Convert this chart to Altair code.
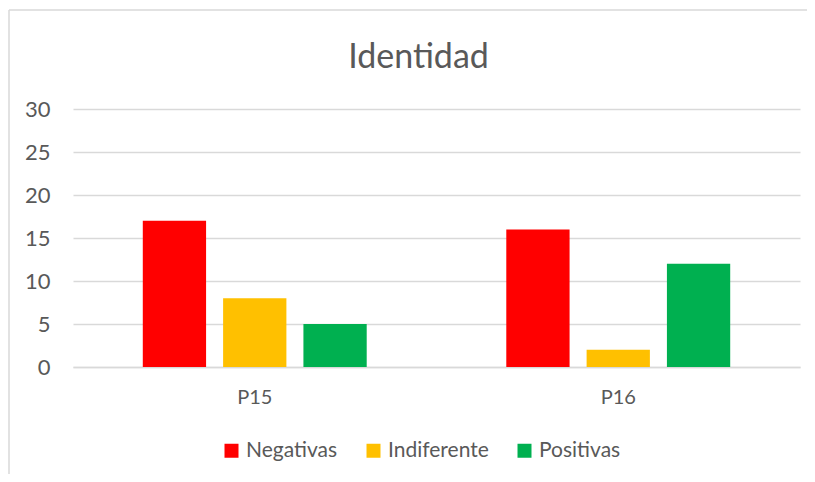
import altair as alt
import pandas as pd

categories = ["P15", "P16"]
series = ["Negativas", "Indiferente", "Positivas"]
negativas = [17, 16]
indiferente = [8, 2]
positivas = [5, 12]
colors = ["#FF0000", "#FFC000", "#00B050"]
y_ticks = [0, 5, 10, 15, 20, 25, 30]

rows = []
for i, c in enumerate(categories):
    for s, vals in zip(series, [negativas, indiferente, positivas]):
        rows.append({"cat": c, "serie": s, "valor": vals[i]})
df = pd.DataFrame(rows)

FONT = "Lato"
TXT = "#595959"
GRID = "#D9D9D9"

bars = alt.Chart(df).mark_bar().encode(
    x=alt.X("cat:N", sort=categories,
            scale=alt.Scale(paddingInner=0.384, paddingOuter=0.192),
            axis=alt.Axis(title=None, labelAngle=0, ticks=False, domain=True, grid=False,
                          domainColor=GRID, domainWidth=1.3, labelPadding=20,
                          labelFontSize=20, labelColor=TXT, labelFont=FONT)),
    xOffset=alt.XOffset("serie:N", sort=series,
                        scale=alt.Scale(paddingInner=0.212, paddingOuter=0)),
    y=alt.Y("valor:Q", scale=alt.Scale(domain=[0, 30], nice=False),
            axis=alt.Axis(title=None, values=y_ticks, ticks=False, domain=False,
                          grid=True, gridColor=GRID, gridWidth=1.3,
                          labelPadding=23, labelFontSize=22, labelColor=TXT,
                          labelFont=FONT)),
    color=alt.Color("serie:N", sort=series,
                    scale=alt.Scale(domain=series, range=colors),
                    legend=alt.Legend(title=None, orient="none", direction="horizontal",
                                      legendX=148, legendY=331,
                                      symbolType="square", symbolSize=196,
                                      symbolStrokeWidth=0, labelFontSize=21,
                                      labelColor=TXT, labelFont=FONT,
                                      labelOffset=4, columnPadding=25)),
)

border_df = pd.DataFrame({"k": [0]})
left_border = alt.Chart(border_df).mark_rule(color=GRID, strokeWidth=1.5).encode(
    x=alt.value(-64), y=alt.value(-99), y2=alt.value(380))
top_border = alt.Chart(border_df).mark_rule(color=GRID, strokeWidth=1.5).encode(
    x=alt.value(-64), x2=alt.value(760), y=alt.value(-99))

chart = alt.layer(left_border, top_border, bars).properties(
    width=727, height=258,
    background="white",
    title=alt.Title("Identidad", fontSize=34, font=FONT, fontWeight="normal",
                    color=TXT, anchor="middle", frame="group", offset=-66, dx=-18),
    autosize=alt.AutoSizeParams(type="none"),
    padding={"left": 65, "top": 101, "right": 7, "bottom": 107},
).configure_view(stroke="transparent", strokeWidth=0)

chart.save("out.html", embed_options={"renderer": "svg", "actions": False})
